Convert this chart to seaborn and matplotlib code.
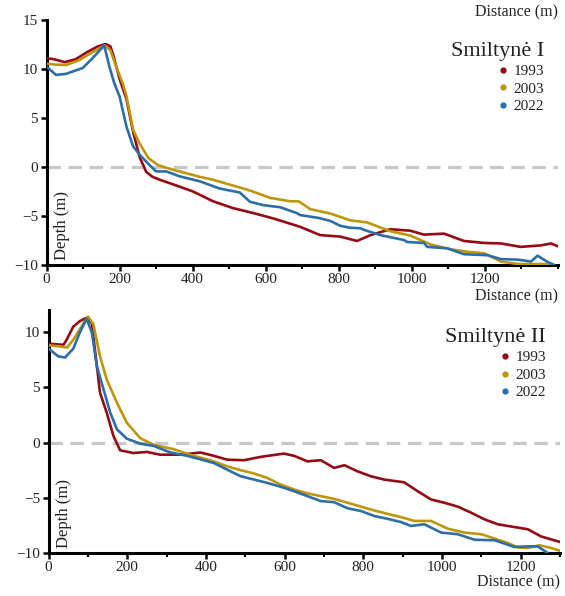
import numpy as np
import pandas as pd
import seaborn as sns
import matplotlib
matplotlib.use("Agg")
import matplotlib.pyplot as plt
from matplotlib.lines import Line2D
from matplotlib.ticker import MultipleLocator

# ---------------- data: Smiltynė I ----------------
top_d_1993 = [0, 20, 50, 80, 110, 140, 162, 175, 182, 200, 219, 237, 255, 273, 290, 310, 364, 401, 456, 511, 566,
              621, 694, 749, 804, 850, 887, 941, 996, 1033, 1088, 1143, 1198, 1244, 1298, 1353, 1381, 1400]
top_z_1993 = [11.1, 11.0, 10.7, 11.0, 11.7, 12.3, 12.55, 12.3, 11.5, 9.0, 6.9, 3.6, 1.0, -0.5, -1.0, -1.3, -2.0, -2.5,
              -3.5, -4.2, -4.7, -5.25, -6.1, -6.95, -7.1, -7.55, -6.95, -6.35, -6.5, -6.9, -6.8, -7.55, -7.75, -7.8,
              -8.15, -8.0, -7.8, -8.1]

top_d_2003 = [0, 25, 53, 90, 120, 145, 160, 175, 190, 210, 219, 237, 255, 279, 305, 330, 364, 419, 456, 511, 557,
              612, 667, 690, 722, 777, 832, 877, 941, 996, 1051, 1106, 1152, 1198, 1244, 1290, 1363, 1380]
top_z_2003 = [10.55, 10.45, 10.4, 10.9, 11.6, 12.1, 12.4, 11.9, 10.3, 8.4, 7.2, 3.8, 2.4, 0.9, 0.2, -0.1, -0.45,
              -1.0, -1.3, -1.9, -2.4, -3.15, -3.5, -3.5, -4.3, -4.75, -5.45, -5.65, -6.55, -7.0, -7.9, -8.4, -8.65,
              -8.8, -9.65, -9.9, -9.9, -10.0]

top_d_2022 = [0, 26, 53, 99, 126, 158, 172, 186, 200, 219, 237, 255, 282, 300, 328, 364, 419, 474, 529, 557, 594,
              639, 685, 694, 745, 777, 804, 832, 859, 868, 914, 978, 987, 1033, 1042, 1097, 1143, 1207, 1244, 1290,
              1326, 1344, 1372, 1390]
top_z_2022 = [10.25, 9.4, 9.5, 10.1, 11.1, 12.4, 10.25, 8.5, 7.2, 4.1, 2.1, 1.25, 0.2, -0.45, -0.45, -0.95, -1.45,
              -2.2, -2.6, -3.55, -3.9, -4.1, -4.7, -4.9, -5.2, -5.5, -6.0, -6.2, -6.25, -6.4, -6.95, -7.45, -7.65,
              -7.75, -8.15, -8.3, -8.9, -9.0, -9.4, -9.45, -9.65, -9.05, -9.7, -10.0]

# ---------------- data: Smiltynė II ----------------
bot_d_1993 = [0, 38, 46, 63, 80, 97, 110, 118, 131, 148, 165, 182, 216, 250, 284, 335, 386, 420, 454, 497, 539,
              598, 624, 658, 692, 726, 752, 785, 819, 853, 904, 938, 972, 1006, 1040, 1074, 1108, 1142, 1184, 1218,
              1252, 1300]
bot_z_1993 = [8.95, 8.85, 9.3, 10.5, 11.0, 11.3, 10.8, 8.4, 4.5, 2.7, 0.6, -0.7, -0.95, -0.85, -1.1, -1.1, -0.9,
              -1.2, -1.55, -1.6, -1.3, -1.0, -1.2, -1.7, -1.6, -2.3, -2.05, -2.6, -3.05, -3.35, -3.6, -4.4, -5.15,
              -5.45, -5.8, -6.35, -6.95, -7.4, -7.65, -7.85, -8.5, -9.0]

bot_d_2003 = [0, 29, 47, 63, 89, 101, 114, 131, 148, 174, 199, 233, 267, 318, 369, 411, 454, 488, 522, 556, 590,
              624, 658, 692, 726, 760, 794, 828, 861, 896, 930, 972, 1015, 1057, 1100, 1134, 1168, 1193, 1218, 1248,
              1278, 1300]
bot_z_2003 = [8.8, 8.7, 8.6, 9.3, 10.8, 11.4, 10.7, 7.8, 5.7, 3.6, 1.8, 0.4, -0.2, -0.6, -1.2, -1.6, -2.15, -2.5,
              -2.8, -3.2, -3.8, -4.25, -4.6, -4.85, -5.1, -5.45, -5.8, -6.15, -6.45, -6.75, -7.1, -7.1, -7.8, -8.15,
              -8.3, -8.7, -9.1, -9.5, -9.55, -9.3, -9.55, -9.8]

bot_d_2022 = [0, 25, 42, 63, 80, 97, 110, 123, 140, 157, 174, 199, 233, 267, 310, 352, 394, 420, 454, 488, 522,
              556, 590, 624, 658, 692, 726, 760, 794, 828, 861, 896, 921, 955, 998, 1040, 1083, 1134, 1184, 1218,
              1243, 1269]
bot_z_2022 = [8.5, 7.8, 7.7, 8.5, 10.0, 11.2, 10.0, 6.9, 4.8, 2.7, 1.2, 0.35, -0.1, -0.3, -0.9, -1.2, -1.6, -1.85,
              -2.45, -3.05, -3.35, -3.65, -4.0, -4.4, -4.85, -5.3, -5.4, -5.95, -6.2, -6.65, -6.9, -7.2, -7.55, -7.4,
              -8.15, -8.3, -8.8, -8.85, -9.45, -9.4, -9.4, -10.0]

years = ["1993", "2003", "2022"]
colors = ["#960A14", "#BE960A", "#2B6EA8"]
titles = ["Smiltynė I", "Smiltynė II"]
x_ticks = [0, 200, 400, 600, 800, 1000, 1200]
y_ticks_top = [-10, -5, 0, 5, 10, 15]
y_ticks_bot = [-10, -5, 0, 5, 10]


def frame(ds, zs):
    rows = []
    for y, d, z in zip(years, ds, zs):
        rows.append(pd.DataFrame({"Distance": d, "Depth": z, "Year": y}))
    return pd.concat(rows, ignore_index=True)


df_top = frame([top_d_1993, top_d_2003, top_d_2022], [top_z_1993, top_z_2003, top_z_2022])
df_bot = frame([bot_d_1993, bot_d_2003, bot_d_2022], [bot_z_1993, bot_z_2003, bot_z_2022])

sns.set_theme(style="ticks")
plt.rcParams["font.family"] = ["Liberation Serif", "DejaVu Serif"]
plt.rcParams["axes.unicode_minus"] = True

fig = plt.figure(figsize=(5.65, 5.96), dpi=100)
ax1 = fig.add_axes([46.5 / 565, 1 - 265 / 596, 511.5 / 565, 245 / 596])
ax2 = fig.add_axes([48.5 / 565, 1 - 553 / 596, 511.5 / 565, 243 / 596])

palette = dict(zip(years, colors))
txt = "#222222"

for ax, df, title, xlim, ylim, yt, xlab_y, anchor_y in [
    (ax1, df_top, titles[0], (0, 1400), (-10, 15), y_ticks_top, -0.13, 0.99),
    (ax2, df_bot, titles[1], (0, 1300), (-10, 12), y_ticks_bot, -0.12, 1.005),
]:
    ax.axhline(0, color="#C8C8C8", lw=2.3, ls=(0, (4.2, 2.4)), zorder=1)
    sns.lineplot(data=df, x="Distance", y="Depth", hue="Year", palette=palette,
                 estimator=None, sort=True, lw=1.9, ax=ax, legend=False, zorder=3)
    ax.set_xlim(*xlim)
    ax.set_ylim(*ylim)
    ax.set_xticks(x_ticks)
    ax.set_yticks(yt)
    ax.xaxis.set_minor_locator(MultipleLocator(100))
    ax.tick_params(axis="both", which="major", direction="out", length=4, width=1.8,
                   labelsize=11, color="black", labelcolor=txt, pad=2)
    ax.tick_params(axis="x", which="minor", direction="out", length=3, width=1.5, color="black")
    for s in ["top", "right"]:
        ax.spines[s].set_visible(False)
    for s in ["left", "bottom"]:
        ax.spines[s].set_linewidth(2.2)
        ax.spines[s].set_color("black")
    ax.set_xlabel("")
    ax.set_ylabel("")
    ax.text(0.03, 0.02, "Depth (m)", rotation=90, transform=ax.transAxes,
            ha="center", va="bottom", fontsize=12, color=txt)
    ax.text(1.0, xlab_y, "Distance (m)", transform=ax.transAxes, ha="right", va="center",
            fontsize=11.5, color=txt)
    handles = [Line2D([0], [0], marker="o", ls="", color=c, markersize=3.5) for c in colors]
    leg = ax.legend(handles, years, title=title, loc="upper right", bbox_to_anchor=(1.01, anchor_y),
                    frameon=False, fontsize=11, title_fontsize=16, alignment="right",
                    handletextpad=0.2, labelspacing=0.25, handlelength=1.0, borderpad=0.75)
    for t in leg.get_texts():
        t.set_color(txt)
    leg.get_title().set_color(txt)

fig.text(558 / 565, 1 - 12 / 596, "Distance (m)", ha="right", va="center", fontsize=11.5, color=txt)

fig.savefig("out.png", dpi=100)
